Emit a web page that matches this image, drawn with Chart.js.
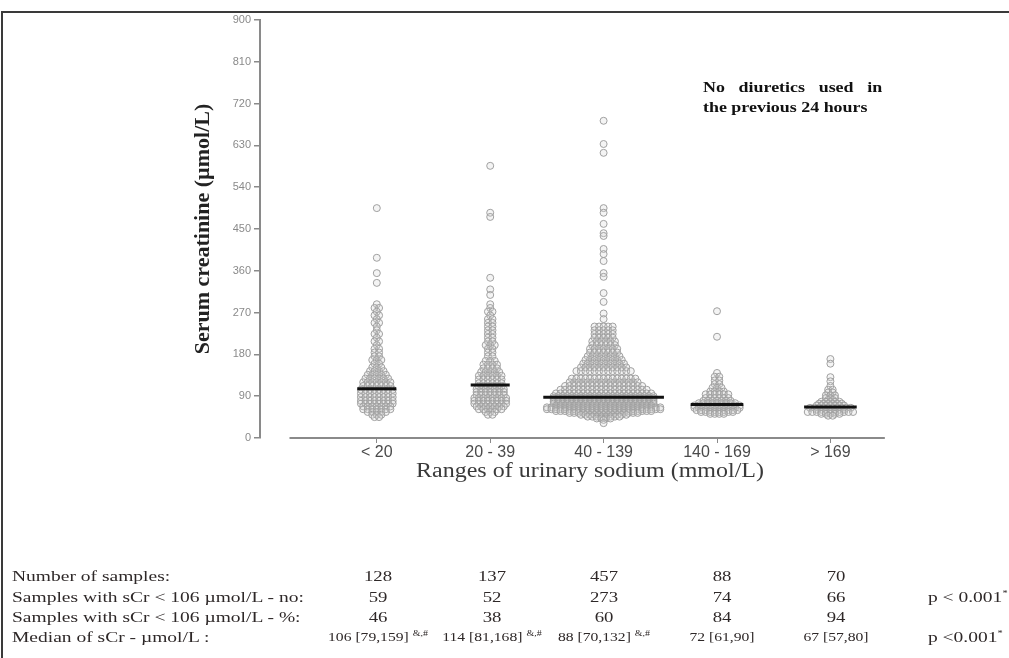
<!DOCTYPE html>
<html>
<head>
<meta charset="utf-8">
<script src="https://cdn.jsdelivr.net/npm/chart.js@4.4.0/dist/chart.umd.min.js"></script>
<style>
  body { margin: 0; background: #fff; }
  #wrap { position: relative; width: 1009px; height: 658px; overflow: hidden; }
  #frame { position: absolute; left: 1px; top: 11px; width: 1020px; height: 700px;
           border-left: 2px solid #3a3a3a; border-top: 2px solid #3a3a3a; pointer-events: none; }
  .txt { position: absolute; font-family: "Liberation Serif", serif; white-space: nowrap; color: #2e2828; }
  .note { font-weight: bold; font-size: 14px; line-height: 20px; color: #111;
          transform: scaleX(1.28); transform-origin: left center; }
  .xtitle { font-size: 20px; line-height: 24px; width: 400px; text-align: center; color: #3a3a3a;
            transform: scaleX(1.2); transform-origin: center center; }
  .lbl { font-size: 15px; line-height: 20px; transform: scaleX(1.3); transform-origin: left center; }
  .val { font-size: 15px; line-height: 20px; width: 160px; text-align: center;
         transform: scaleX(1.25); transform-origin: center center; }
  .val.small { font-size: 12.5px; }
  sup { font-size: 8px; line-height: 0; }
</style>
</head>
<body>
<div id="wrap">
  <canvas id="chart" width="1009" height="658"></canvas>
  <div id="frame"></div>
  <div class="txt note" style="left:703px; top:78px; width:140px; text-align:justify; text-align-last:justify;">No diuretics used in</div>
  <div class="txt note" style="left:703px; top:98px;">the previous 24 hours</div>
  <div class="txt xtitle" style="left:390px; top:458px;">Ranges of urinary sodium (mmol/L)</div>
  <div id="table"></div>
</div>
<script>
'use strict';

//globals

//x categories
const categories = ['< 20', '20 - 39', '40 - 139', '140 - 169', '> 169'];
//table under the chart
const rowLabels = [
  'Number of samples:',
  'Samples with sCr <  106 \u00b5mol/L - no:',
  'Samples with sCr <  106 \u00b5mol/L - %:',
  'Median  of  sCr - \u00b5mol/L :'
];
const sampleCounts = [128, 137, 457, 88, 70];
const belowCutoffNo = [59, 52, 273, 74, 66];
const belowCutoffPct = [46, 38, 60, 84, 94];
const medians = [106, 114, 88, 72, 67];
const medianRanges = ['[79,159]', '[81,168]', '[70,132]', '[61,90]', '[57,80]'];
const medianMarks = ['&,#', '&,#', '&,#', '', ''];
const pValues = ['', 'p < 0.001', '', 'p <0.001'];

const swarmLt20 = [
  [495, 1], [388, 1], [355, 1], [334, 1],
  [288, 1], [280, 2], [272, 1], [264, 2], [256, 1], [248, 2], [240, 1], [232, 1], [224, 2],
  [216, 1], [208, 2], [200, 1], [192, 2], [184, 2], [176, 2], [168, 3], [160, 2],
  [152, 3], [144, 4], [136, 5], [128, 6], [120, 7], [112, 7],
  [104, 8], [96, 8], [88, 8], [80, 8],
  [74, 8], [68, 7], [62, 7], [56, 5], [50, 3], [45, 2]
];
const swarm20to39 = [
  [586, 1], [485, 1], [476, 1], [345, 1], [320, 1], [308, 1],
  [288, 1], [280, 1], [272, 2], [264, 1], [256, 2], [248, 2], [240, 2], [232, 2], [224, 2],
  [216, 2], [208, 2], [200, 3], [192, 2], [184, 2], [176, 2],
  [166, 3], [158, 4], [150, 4], [142, 5], [134, 6], [126, 6], [118, 6],
  [111, 6], [105, 7], [99, 7], [93, 7], [86, 8],
  [80, 8], [74, 8], [68, 7], [62, 6], [56, 3], [50, 2]
];
const swarm40to139 = [
  [683, 1], [633, 1], [614, 1], [495, 1], [485, 1], [461, 1], [441, 1], [435, 1], [407, 1],
  [396, 1], [381, 1], [355, 1], [347, 1], [312, 1], [293, 1], [268, 1], [256, 1],
  [240, 5], [232, 5], [224, 5], [216, 5], [208, 6], [200, 6], [192, 7], [184, 7], [176, 8],
  [168, 9], [160, 10], [152, 11], [144, 13],
  [128, 15], [120, 16], [112, 18], [104, 20], [96, 22], [90, 23],
  [86, 23], [82, 23], [78, 23], [74, 23], [70, 22],
  [66, 26], [62, 26], [58, 22], [54, 16], [50, 11], [46, 8], [42, 4], [39, 1], [32, 1]
];
const swarm140to169 = [
  [273, 1], [218, 1], [140, 1], [132, 2], [124, 2], [116, 2], [108, 3], [100, 4], [94, 6],
  [86, 6], [80, 7], [75, 9],
  [70, 11], [65, 11],
  [60, 10], [56, 8], [52, 4]
];
const swarmOver169 = [
  [170, 1], [160, 1], [131, 1], [122, 1], [112, 1], [104, 2], [98, 2], [92, 3], [86, 3], [82, 2],
  [78, 5], [74, 6], [70, 7],
  [65, 10], [61, 7],
  [56, 11], [52, 5], [48, 2]
];
const swarms = [swarmLt20, swarm20to39, swarm40to139, swarm140to169, swarmOver169];

//layout
const dotStep = 0.04;       //horizontal gap between dots, in category units
const dotRadius = 3.5;
const axisStart = -0.77;    //where the offset x axis line starts / ends
const axisEnd = 4.48;
const tableRowsTop = [566, 587, 607, 627];
const tableCols = [378, 492, 604, 722, 836];

//helpers

function buildSwarm(rows, index) {
  let points = [];
  for(let [value, count] of rows) {
    for(let i = 0; i < count; i++) {
      points.push({x: index + (i - (count - 1) / 2) * dotStep, y: value});
    }
  }
  return points;
}

function medianLine(rows, index) {
  let widest = Math.max(...rows.map(r => r[1]));
  let half = (widest - 1) / 2 * dotStep + dotStep * 0.8;
  return [{x: index - half, y: medians[index]}, {x: index + half, y: medians[index]}];
}

function addCell(cls, left, top, html) {
  let el = document.createElement('div');
  el.className = 'txt ' + cls;
  el.style.left = left + 'px';
  el.style.top = top + 'px';
  el.innerHTML = html;
  document.getElementById('table').appendChild(el);
}

//plugins

//x axis line that stops short of the y axis
const offsetAxis = {
  id: 'offsetAxis',
  afterDraw(chart) {
    const {ctx, scales: {x}, chartArea} = chart;
    ctx.save();
    ctx.strokeStyle = '#8a8a8a';
    ctx.lineWidth = 2;
    ctx.beginPath();
    ctx.moveTo(x.getPixelForValue(axisStart), chartArea.bottom);
    ctx.lineTo(x.getPixelForValue(axisEnd), chartArea.bottom);
    ctx.stroke();
    ctx.restore();
  }
};

//main

const datasets = [];
for(let i = 0; i < categories.length; i++) {
  datasets.push({
    type: 'line',
    data: medianLine(swarms[i], i),
    borderColor: '#111',
    borderWidth: 3,
    pointRadius: 0,
    order: 0
  });
}
for(let i = 0; i < categories.length; i++) {
  datasets.push({
    type: 'scatter',
    data: buildSwarm(swarms[i], i),
    pointRadius: dotRadius,
    pointBorderWidth: 1,
    borderColor: '#a0a0a0',
    backgroundColor: 'rgba(210,210,210,0.25)',
    order: 1
  });
}

new Chart(document.getElementById('chart'), {
  type: 'scatter',
  data: {datasets: datasets},
  options: {
    responsive: false,
    animation: false,
    layout: {padding: {left: 0, top: 20, right: 89, bottom: 0}},
    plugins: {legend: {display: false}, tooltip: {enabled: false}},
    scales: {
      x: {
        type: 'linear',
        min: -1.03,
        max: 4.79,
        afterBuildTicks: scale => { scale.ticks = categories.map((c, i) => ({value: i})); },
        afterFit: scale => { scale.height = 220; },
        ticks: {
          callback: value => categories[value],
          font: {family: 'Liberation Sans', size: 16},
          color: '#4a4a4a',
          padding: 0
        },
        grid: {drawOnChartArea: false, tickLength: 5, color: '#8a8a8a'},
        border: {display: false}
      },
      y: {
        min: 0,
        max: 900,
        afterFit: scale => { scale.width = 260; },
        ticks: {
          stepSize: 90,
          font: {family: 'Liberation Sans', size: 11},
          color: '#8a8a8a',
          padding: 3
        },
        grid: {drawOnChartArea: false, tickLength: 6, color: '#8a8a8a', lineWidth: 1.5},
        border: {color: '#8a8a8a', width: 2},
        title: {
          display: true,
          text: 'Serum creatinine (\u00b5mol/L)',
          font: {family: 'Liberation Serif', size: 22, weight: 'bold'},
          color: '#222',
          padding: {top: 190, bottom: 0}
        }
      }
    }
  },
  plugins: [offsetAxis]
});

//table
for(let r = 0; r < rowLabels.length; r++) {
  addCell('lbl', 12, tableRowsTop[r], rowLabels[r]);
}
for(let i = 0; i < categories.length; i++) {
  addCell('val', tableCols[i] - 80, tableRowsTop[0], sampleCounts[i]);
  addCell('val', tableCols[i] - 80, tableRowsTop[1], belowCutoffNo[i]);
  addCell('val', tableCols[i] - 80, tableRowsTop[2], belowCutoffPct[i]);
  let mark = medianMarks[i] ? ' <sup>' + medianMarks[i] + '</sup>' : '';
  addCell('val small', tableCols[i] - 80, tableRowsTop[3], medians[i] + ' ' + medianRanges[i] + mark);
}
for(let r = 0; r < pValues.length; r++) {
  if(pValues[r]) {
    addCell('lbl', 928, tableRowsTop[r], pValues[r] + '<sup>*</sup>');
  }
}
</script>
</body>
</html>
